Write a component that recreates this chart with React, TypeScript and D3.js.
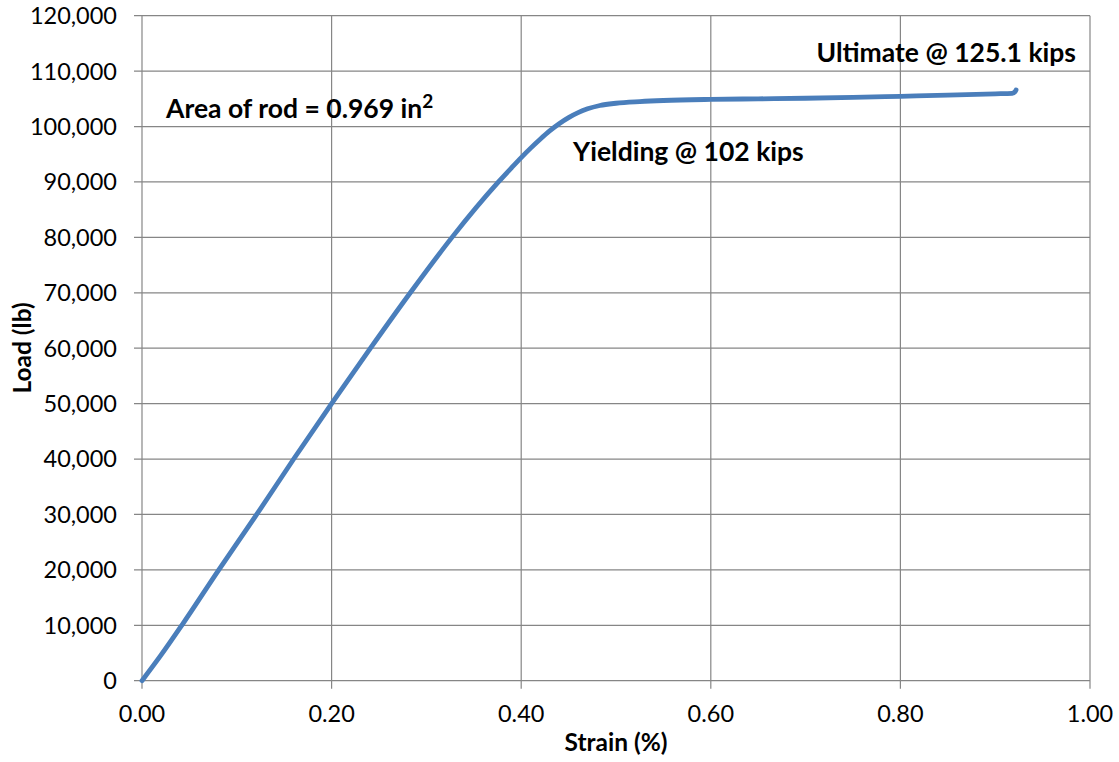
import React from "react";
import * as d3 from "d3";

const strain = [0, 0.02, 0.042, 0.081, 0.121, 0.16, 0.2, 0.241, 0.283, 0.327, 0.376, 0.39, 0.4, 0.41, 0.42, 0.43, 0.44, 0.45, 0.46, 0.47, 0.483, 0.5, 0.525, 0.55, 0.6, 0.65, 0.7, 0.75, 0.8, 0.85, 0.9, 0.918, 0.921, 0.922];
const load = [0, 4600, 10000, 20000, 30000, 40000, 50000, 60000, 70000, 80000, 90000, 92600, 94400, 96100, 97700, 99200, 100500, 101600, 102500, 103200, 103800, 104200, 104500, 104700, 104900, 105000, 105100, 105250, 105450, 105650, 105900, 106000, 106300, 106600];
const xTicks = [0, 0.2, 0.4, 0.6, 0.8, 1.0];
const yTicks = [0, 10000, 20000, 30000, 40000, 50000, 60000, 70000, 80000, 90000, 100000, 110000, 120000];

const W = 1119, H = 762;
const left = 142, right = 1090, top = 15.7, bottom = 680.7;
const FONT = "Lato, 'Open Sans', sans-serif";

export default function App() {
  const x = d3.scaleLinear().domain([0, 1]).range([left, right]);
  const y = d3.scaleLinear().domain([0, 120000]).range([bottom, top]);
  const pts = strain.map((s, i) => [s, load[i]] as [number, number]);
  const line = d3.line<[number, number]>().x(d => x(d[0])).y(d => y(d[1])).curve(d3.curveMonotoneX);
  const grid = "#868686";
  const fmt = d3.format(",");
  return (
    <svg width={W} height={H} style={{ position: "absolute", left: 0, top: 0, background: "#fff" }} fontFamily={FONT}>
      {yTicks.map(t => (
        <g key={"y" + t}>
          <line x1={left - 8} x2={right} y1={y(t)} y2={y(t)} stroke={grid} strokeWidth={1.2} />
          <text x={117} y={y(t)} dy="0.36em" textAnchor="end" fontSize={23.5} fill="#000">{fmt(t)}</text>
        </g>
      ))}
      {xTicks.map(t => (
        <g key={"x" + t}>
          <line x1={x(t)} x2={x(t)} y1={top} y2={bottom + 8} stroke={grid} strokeWidth={1.2} />
          <text x={x(t)} y={722} textAnchor="middle" fontSize={23.5} fill="#000">{t.toFixed(2)}</text>
        </g>
      ))}
      <path d={line(pts) || ""} fill="none" stroke="#4a7ebb" strokeWidth={4.8} strokeLinecap="round" strokeLinejoin="round" />
      <text x={616} y={751} textAnchor="middle" fontSize={24.5} fontWeight="bold">Strain (%)</text>
      <text transform={`translate(31,348) rotate(-90)`} textAnchor="middle" fontSize={24.5} fontWeight="bold">Load (lb)</text>
      <text x={1076} y={62} textAnchor="end" fontSize={26.5} fontWeight="bold">Ultimate @ 125.1 kips</text>
      <text x={166} y={118} fontSize={26.5} fontWeight="bold">Area of rod = 0.969 in<tspan dy={-10} fontSize={19}>2</tspan></text>
      <text x={573} y={161} fontSize={26.5} fontWeight="bold">Yielding @ 102 kips</text>
    </svg>
  );
}
